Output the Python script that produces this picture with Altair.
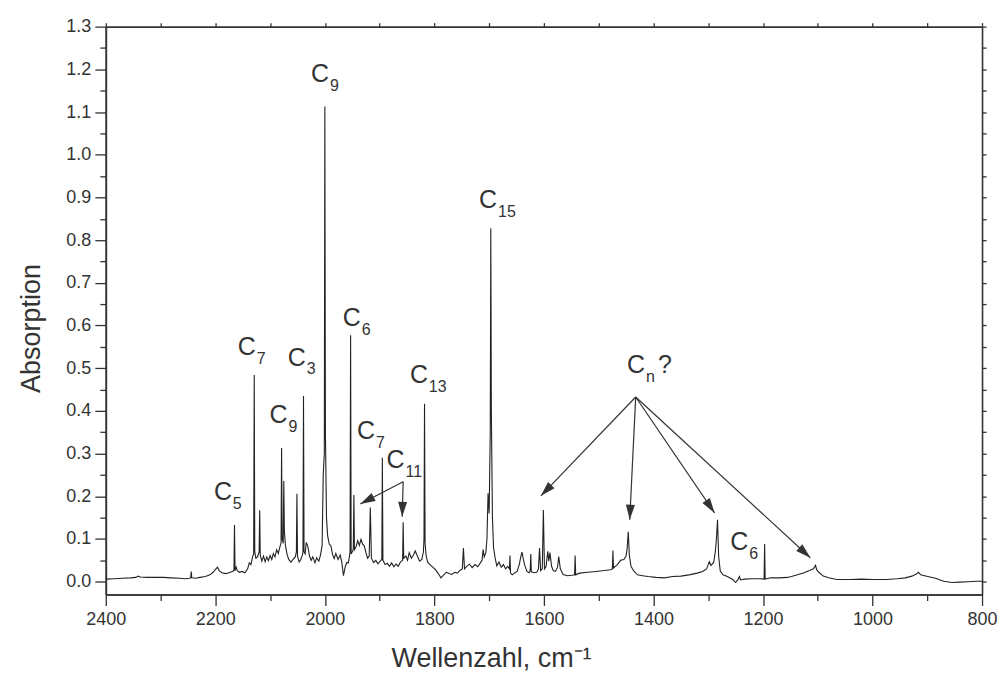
import math
import altair as alt
import pandas as pd

FONT = "Liberation Sans, Arial, Helvetica, sans-serif"
INK = "#333333"

# ---- spectrum: (wavenumber cm-1, absorption) ----
seg_2400_2000 = [
    (2400, 0.006), (2385, 0.007), (2370, 0.008), (2355, 0.009), (2345, 0.010), (2341, 0.013),
    (2337, 0.011), (2325, 0.010), (2310, 0.010), (2295, 0.010), (2280, 0.009), (2265, 0.008),
    (2255, 0.007), (2247, 0.008), (2245, 0.009), (2244, 0.024), (2243, 0.009), (2236, 0.008),
    (2228, 0.010), (2218, 0.012), (2210, 0.016), (2204, 0.022), (2199, 0.030), (2196, 0.034),
    (2193, 0.026), (2188, 0.021), (2181, 0.019), (2175, 0.021), (2169, 0.024), (2166, 0.026),
    (2165, 0.133), (2164, 0.026), (2162, 0.034), (2160, 0.026), (2156, 0.022), (2151, 0.024),
    (2146, 0.021), (2141, 0.030), (2138, 0.044), (2135, 0.040), (2132, 0.058), (2130, 0.065),
    (2129, 0.484), (2128, 0.070), (2126, 0.055), (2123, 0.058), (2120, 0.070), (2119, 0.167),
    (2118, 0.062), (2115, 0.048), (2112, 0.060), (2109, 0.047), (2106, 0.058), (2103, 0.049),
    (2100, 0.061), (2097, 0.052), (2094, 0.066), (2091, 0.058), (2088, 0.075), (2085, 0.066),
    (2082, 0.082), (2080, 0.090), (2079, 0.313), (2078, 0.100), (2076, 0.090), (2075, 0.236),
    (2074, 0.120), (2072, 0.085), (2069, 0.064), (2066, 0.052), (2062, 0.046), (2058, 0.052),
    (2054, 0.058), (2052, 0.070), (2051, 0.206), (2050, 0.060), (2047, 0.046), (2044, 0.052),
    (2041, 0.062), (2040, 0.070), (2039, 0.435), (2038, 0.070), (2036, 0.065), (2034, 0.092),
    (2031, 0.082), (2028, 0.060), (2025, 0.050), (2022, 0.058), (2018, 0.044), (2015, 0.056),
    (2011, 0.048), (2008, 0.062), (2005, 0.085), (2003, 0.250), (2001, 0.300), (2000, 1.113),
]
seg_2000_1700 = [
    (1999, 0.350), (1997, 0.150), (1995, 0.108), (1992, 0.088), (1989, 0.084), (1986, 0.064),
    (1983, 0.054), (1980, 0.066), (1976, 0.052), (1972, 0.062), (1969, 0.045), (1966, 0.014),
    (1963, 0.034), (1960, 0.045), (1957, 0.044), (1955, 0.060), (1954, 0.070), (1953, 0.577),
    (1952, 0.065), (1949, 0.072), (1948, 0.080), (1947, 0.203), (1946, 0.075), (1943, 0.082),
    (1940, 0.096), (1937, 0.085), (1934, 0.099), (1931, 0.088), (1928, 0.084), (1925, 0.068),
    (1922, 0.055), (1919, 0.060), (1917, 0.174), (1915, 0.055), (1911, 0.045), (1907, 0.050),
    (1903, 0.042), (1899, 0.048), (1896, 0.052), (1895, 0.290), (1894, 0.050), (1890, 0.040),
    (1886, 0.043), (1882, 0.036), (1878, 0.044), (1874, 0.035), (1870, 0.041), (1866, 0.036),
    (1862, 0.046), (1858, 0.050), (1857, 0.139), (1856, 0.055), (1852, 0.060), (1849, 0.050),
    (1846, 0.068), (1842, 0.055), (1838, 0.063), (1835, 0.072), (1831, 0.060), (1827, 0.048),
    (1823, 0.052), (1820, 0.070), (1819, 0.100), (1818, 0.417), (1817, 0.090), (1815, 0.060),
    (1812, 0.045), (1808, 0.040), (1803, 0.034), (1798, 0.028), (1793, 0.019), (1788, 0.009),
    (1783, 0.016), (1778, 0.022), (1773, 0.019), (1768, 0.017), (1763, 0.022), (1758, 0.020),
    (1753, 0.027), (1749, 0.030), (1747, 0.079), (1745, 0.030), (1741, 0.036), (1736, 0.041),
    (1731, 0.033), (1726, 0.040), (1721, 0.035), (1716, 0.044), (1713, 0.050), (1711, 0.075),
    (1709, 0.058), (1706, 0.068), (1704, 0.100), (1702, 0.207), (1700, 0.160),
]
seg_1700_1400 = [
    (1698, 0.350), (1697, 0.828), (1696, 0.400), (1694, 0.150), (1692, 0.080), (1689, 0.055),
    (1686, 0.037), (1682, 0.046), (1678, 0.034), (1674, 0.040), (1670, 0.030), (1666, 0.036),
    (1663, 0.030), (1662, 0.061), (1661, 0.020), (1658, 0.016), (1653, 0.021), (1649, 0.024),
    (1645, 0.040), (1642, 0.060), (1640, 0.069), (1638, 0.055), (1635, 0.038), (1631, 0.024),
    (1627, 0.021), (1625, 0.026), (1624, 0.065), (1623, 0.023), (1618, 0.021), (1613, 0.022),
    (1610, 0.030), (1608, 0.079), (1606, 0.026), (1603, 0.030), (1601, 0.168), (1599, 0.030),
    (1596, 0.036), (1593, 0.071), (1591, 0.048), (1589, 0.068), (1586, 0.036), (1583, 0.026),
    (1579, 0.024), (1575, 0.034), (1573, 0.059), (1570, 0.030), (1565, 0.017), (1557, 0.014),
    (1549, 0.015), (1544, 0.016), (1543, 0.061), (1542, 0.016), (1535, 0.020), (1520, 0.022),
    (1505, 0.024), (1490, 0.026), (1478, 0.028), (1475, 0.030), (1474, 0.073), (1473, 0.032),
    (1466, 0.040), (1460, 0.050), (1454, 0.052), (1450, 0.060), (1448, 0.078), (1446, 0.117),
    (1444, 0.062), (1441, 0.036), (1436, 0.025), (1429, 0.016), (1420, 0.014), (1410, 0.012),
]
seg_1400_800 = [
    (1395, 0.010), (1380, 0.009), (1365, 0.012), (1350, 0.013), (1335, 0.016), (1320, 0.020),
    (1310, 0.024), (1303, 0.030), (1300, 0.040), (1298, 0.047), (1295, 0.038), (1290, 0.045),
    (1287, 0.070), (1285, 0.100), (1283, 0.145), (1281, 0.060), (1278, 0.025), (1273, 0.016),
    (1265, 0.012), (1255, 0.005), (1250, -0.002), (1246, 0.004), (1243, 0.012), (1241, 0.004),
    (1234, 0.006), (1220, 0.007), (1205, 0.007), (1198, 0.006), (1197, 0.088), (1196, 0.006),
    (1186, 0.009), (1170, 0.009), (1155, 0.010), (1140, 0.015), (1125, 0.021), (1115, 0.026),
    (1108, 0.030), (1104, 0.038), (1102, 0.028), (1098, 0.022), (1090, 0.013), (1080, 0.009),
    (1065, 0.005), (1040, 0.005), (1020, 0.006), (1000, 0.005), (975, 0.005), (955, 0.007),
    (940, 0.009), (928, 0.013), (920, 0.018), (916, 0.022), (912, 0.016), (905, 0.014),
    (895, 0.011), (885, 0.008), (870, 0.001), (855, -0.002), (840, -0.001), (825, 0.000),
    (810, 0.001), (800, 0.001),
]

# ---- peak labels: anchor of the big "C", and its subscript ----
label_w = [2009, 1702, 1951, 2142.5, 2051.4, 1828.3, 2084.7, 1924.9, 1871, 2186.2, 1431.8, 1243.4]
label_a = [1.189, 0.895, 0.617, 0.550, 0.525, 0.484, 0.390, 0.353, 0.285, 0.209, 0.507, 0.092]
label_sub = ["9", "15", "6", "7", "3", "13", "9", "7", "11", "5", "n", "6"]
question_w = [1431.8]
question_a = [0.507]

# ---- arrows: from label to peak ----
arrow_from_w = [1857, 1857, 1432.4, 1432.4, 1432.4, 1432.4]
arrow_from_a = [0.234, 0.234, 0.4325, 0.4325, 0.4325, 0.4325]
arrow_to_w = [1935.3, 1858.8, 1605.5, 1443.3, 1288.4, 1113.5]
arrow_to_a = [0.182, 0.152, 0.201, 0.145, 0.161, 0.056]

# ---- axes ----
x_major = [2400, 2200, 2000, 1800, 1600, 1400, 1200, 1000, 800]
x_minor = [2300, 2100, 1900, 1700, 1500, 1300, 1100, 900]
y_major = [0.0, 0.1, 0.2, 0.3, 0.4, 0.5, 0.6, 0.7, 0.8, 0.9, 1.0, 1.1, 1.2, 1.3]
y_minor = [0.05, 0.15, 0.25, 0.35, 0.45, 0.55, 0.65, 0.75, 0.85, 0.95, 1.05, 1.15, 1.25]

X_DOMAIN = [800, 2400]
Y_DOMAIN = [-0.03, 1.3]
W, H = 878, 569

spec = seg_2400_2000 + seg_2000_1700 + seg_1700_1400 + seg_1400_800
spec_df = pd.DataFrame({"w": [p[0] for p in spec], "a": [p[1] for p in spec]})
lab_df = pd.DataFrame({"w": label_w, "a": label_a, "sub": label_sub})
q_df = pd.DataFrame({"w": question_w, "a": question_a})

px_x = W / (X_DOMAIN[1] - X_DOMAIN[0])
px_y = H / (Y_DOMAIN[1] - Y_DOMAIN[0])
angles = []
for fw, fa, tw, ta in zip(arrow_from_w, arrow_from_a, arrow_to_w, arrow_to_a):
    dx = -(tw - fw) * px_x
    dy = -(ta - fa) * px_y
    angles.append(math.degrees(math.atan2(dx, -dy)) % 360)
arr_df = pd.DataFrame({"fw": arrow_from_w, "fa": arrow_from_a,
                       "tw": arrow_to_w, "ta": arrow_to_a, "angle": angles})

xs = alt.Scale(domain=X_DOMAIN, reverse=True, nice=False, zero=False)
ys = alt.Scale(domain=Y_DOMAIN, nice=False, zero=False)

AX = dict(domainColor=INK, tickColor=INK, labelColor=INK, titleColor=INK,
          domainWidth=1.6, tickWidth=1.3, grid=False, labelFont=FONT, titleFont=FONT,
          titleFontWeight="normal", labelFlush=False)

ax_x_major = alt.Axis(orient="bottom", values=x_major, tickSize=11, labelFontSize=18,
                      labelPadding=5, format="d", title="Wellenzahl, cm⁻¹",
                      titleFontSize=27, titlePadding=17, titleX=386, titleAlign="center",
                      **AX)
ax_y_major = alt.Axis(orient="left", values=y_major, tickSize=11, labelFontSize=18,
                      labelPadding=4, format=".1f", title="Absorption",
                      titleFontSize=27, titlePadding=20, titleY=302, titleAlign="center",
                      **AX)
ax_x_minor = alt.Axis(orient="bottom", values=x_minor, tickSize=6, labels=False,
                      title=None, **AX)
ax_y_minor = alt.Axis(orient="left", values=y_minor, tickSize=6, labels=False,
                      title=None, **AX)
ax_x_top = alt.Axis(orient="top", values=x_major + x_minor, tickSize=4, labels=False,
                    title=None, **AX)
ax_y_right = alt.Axis(orient="right", values=y_major + y_minor, tickSize=4, labels=False,
                      title=None, **AX)

line = alt.Chart(spec_df).mark_line(color="#222222", strokeWidth=1.1).encode(
    x=alt.X("w:Q", scale=xs, axis=ax_x_major),
    y=alt.Y("a:Q", scale=ys, axis=ax_y_major),
)

rules = alt.Chart(arr_df).mark_rule(color=INK, strokeWidth=1.2).encode(
    x=alt.X("fw:Q", scale=xs, axis=ax_x_minor),
    y=alt.Y("fa:Q", scale=ys, axis=ax_y_minor),
    x2="tw:Q",
    y2="ta:Q",
)

heads = alt.Chart(arr_df).mark_point(
    shape="M0,0L-0.3,1L0.3,1Z", filled=True, size=900, color=INK, opacity=1, strokeWidth=0
).encode(
    x=alt.X("tw:Q", scale=xs, axis=ax_x_top),
    y=alt.Y("ta:Q", scale=ys, axis=ax_y_right),
    angle=alt.Angle("angle:Q", scale=None),
)

text_c = alt.Chart(lab_df).mark_text(
    text="C", font=FONT, fontSize=25, color=INK, align="center", baseline="middle"
).encode(
    x=alt.X("w:Q", scale=xs, axis=None),
    y=alt.Y("a:Q", scale=ys, axis=None),
)

text_sub = alt.Chart(lab_df).mark_text(
    font=FONT, fontSize=16, color=INK, align="left", baseline="middle", dx=10, dy=12
).encode(
    x=alt.X("w:Q", scale=xs, axis=None),
    y=alt.Y("a:Q", scale=ys, axis=None),
    text="sub:N",
)

text_q = alt.Chart(q_df).mark_text(
    text="?", font=FONT, fontSize=25, color=INK, align="left", baseline="middle", dx=22
).encode(
    x=alt.X("w:Q", scale=xs, axis=None),
    y=alt.Y("a:Q", scale=ys, axis=None),
)

chart = alt.layer(line, rules, heads, text_c, text_sub, text_q).resolve_axis(
    x="independent", y="independent"
).properties(
    width=W, height=H,
    padding={"left": 98, "top": 18, "right": 15, "bottom": 80},
    autosize=alt.AutoSizeParams(type="none"),
    background="white",
).configure_view(stroke=None)

chart.save("out.html", embed_options={"renderer": "svg", "actions": False})
